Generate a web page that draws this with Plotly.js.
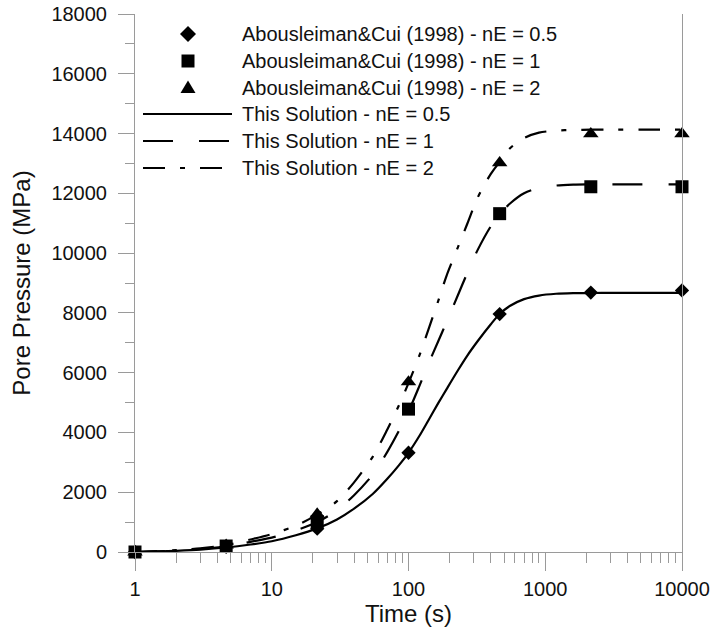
<!DOCTYPE html>
<html>
<head>
<meta charset="utf-8">
<script src="https://cdn.plot.ly/plotly-3.0.1.min.js"></script>
<style>
html,body{margin:0;padding:0;background:#fff;}
#chart{width:713px;height:634px;}
</style>
</head>
<body>
<div id="chart"></div>
<script>
// ---- Data ----
var tMarkers = [1, 4.64, 21.5, 100, 464, 2154, 10000];
var refNE05 = [0, 170, 780, 3320, 7960, 8680, 8750];
var refNE1  = [0, 200, 1020, 4780, 11320, 12220, 12220];
var refNE2  = [0, 230, 1270, 5690, 13020, 13990, 13990];

var tCurve = [1, 1.5, 2, 3, 4.64, 7, 10, 15, 21.5, 30, 40, 55, 70, 85, 100, 120, 140, 165, 190, 230, 270, 320, 400, 464, 550, 700, 900, 1200, 1600, 2154, 3000, 5000, 10000];
var solNE05 = [0, 20, 40, 80, 150, 250, 360, 560, 790, 1090, 1450, 1950, 2450, 2900, 3320, 3880, 4410, 4980, 5450, 6080, 6580, 7050, 7620, 7960, 8230, 8460, 8580, 8640, 8660, 8665, 8670, 8670, 8670];
var solNE1  = [0, 25, 50, 100, 190, 340, 480, 720, 1000, 1400, 1900, 2600, 3350, 4050, 4700, 5550, 6300, 7050, 7700, 8600, 9350, 10100, 10900, 11300, 11650, 12000, 12180, 12260, 12290, 12300, 12300, 12300, 12300];
var solNE2  = [0, 30, 60, 120, 230, 420, 600, 880, 1250, 1700, 2330, 3200, 4100, 4900, 5650, 6570, 7450, 8400, 9250, 10200, 11000, 11850, 12650, 13050, 13500, 13850, 14030, 14100, 14120, 14130, 14130, 14130, 14130];

var xTickVals = [1, 10, 100, 1000, 10000];
var xTickText = ["1", "10", "100", "1000", "10000"];
var xMinorVals = [2,3,4,5,6,7,8,9,20,30,40,50,60,70,80,90,200,300,400,500,600,700,800,900,2000,3000,4000,5000,6000,7000,8000,9000];

var legendLabels = [
  "Abousleiman&Cui (1998) - nE = 0.5",
  "Abousleiman&Cui (1998) - nE = 1",
  "Abousleiman&Cui (1998) - nE = 2",
  "This Solution - nE = 0.5",
  "This Solution - nE = 1",
  "This Solution - nE = 2"
];

// ---- Styles ----
var BLACK = "#000";
var dash1 = "30px,26px";
var dash2 = "22px,15px,5px,15px";
var lw = 2.2;

var traces = [
  {x: tCurve, y: solNE05, mode: "lines", line: {color: BLACK, width: lw, shape: "spline", smoothing: 0.8}, cliponaxis: false, showlegend: false, hoverinfo: "skip"},
  {x: tCurve, y: solNE1, mode: "lines", line: {color: BLACK, width: lw, dash: dash1, shape: "spline", smoothing: 0.8}, cliponaxis: false, showlegend: false, hoverinfo: "skip"},
  {x: tCurve, y: solNE2, mode: "lines", line: {color: BLACK, width: lw, dash: dash2, shape: "spline", smoothing: 0.8}, cliponaxis: false, showlegend: false, hoverinfo: "skip"},
  {x: tMarkers, y: refNE05, mode: "markers", marker: {symbol: "diamond", size: 11, color: BLACK}, cliponaxis: false, showlegend: false},
  {x: tMarkers, y: refNE1, mode: "markers", marker: {symbol: "square", size: 13, color: BLACK}, cliponaxis: false, showlegend: false},
  {x: tMarkers, y: refNE2, mode: "markers", marker: {symbol: "triangle-up", size: 13.5, color: BLACK}, cliponaxis: false, showlegend: false}
];

// ---- Custom legend (paper coordinates) ----
var L = 135, T = 14, PW = 547, PH = 538;
function px(x){ return (x - L) / PW; }
function py(y){ return (T + PH - y) / PH; }
var rowY = [34, 61, 88, 114, 141, 168];
var markerPaths = [
  "M0,8 L8,0 L0,-8 L-8,0 Z",
  "M-6.5,-6.5 L6.5,-6.5 L6.5,6.5 L-6.5,6.5 Z",
  "M-7.5,-5 L7.5,-5 L0,7.5 Z"
];
var lineDashes = ["solid", dash1, dash2];
var shapes = [];
var annotations = [];
for (var i = 0; i < 6; i++) {
  if (i < 3) {
    shapes.push({type: "path", xref: "paper", yref: "paper", xsizemode: "pixel", ysizemode: "pixel",
      xanchor: px(188), yanchor: py(rowY[i]), path: markerPaths[i], fillcolor: BLACK, line: {width: 0}});
  } else {
    shapes.push({type: "line", xref: "paper", yref: "paper", x0: px(143), x1: px(232), y0: py(rowY[i]), y1: py(rowY[i]),
      line: {color: BLACK, width: lw, dash: lineDashes[i - 3]}});
  }
  annotations.push({xref: "paper", yref: "paper", x: px(240), y: py(rowY[i]), xanchor: "left", yanchor: "middle",
    text: legendLabels[i], showarrow: false, font: {family: "Liberation Sans, Arial, sans-serif", size: 20, color: "#111"}});
}

var axisColor = "#9a9a9a";
var layout = {
  width: 713, height: 634,
  margin: {l: L, r: 713 - L - PW, t: T, b: 634 - T - PH},
  paper_bgcolor: "#fff", plot_bgcolor: "#fff",
  showlegend: false,
  font: {family: "Liberation Sans, Arial, sans-serif", color: "#111"},
  xaxis: {
    type: "log", range: [0, 4],
    tickmode: "array", tickvals: xTickVals, ticktext: xTickText,
    ticks: "outside", ticklen: 18, tickcolor: axisColor, tickwidth: 1,
    minor: {tickmode: "array", tickvals: xMinorVals, ticks: "outside", ticklen: 10, tickcolor: axisColor, tickwidth: 1, showgrid: false},
    showline: true, linecolor: axisColor, linewidth: 1,
    showgrid: false, zeroline: false,
    tickfont: {size: 20, color: "#111"},
    ticklabelstandoff: 1,
    title: {text: "Time (s)", font: {size: 24, color: "#111"}, standoff: 1}
  },
  yaxis: {
    range: [0, 18000], dtick: 2000, tick0: 0, tickformat: "d",
    ticks: "outside", ticklen: 16, tickcolor: axisColor, tickwidth: 1,
    minor: {dtick: 1000, ticks: "outside", ticklen: 9, tickcolor: axisColor, tickwidth: 1, showgrid: false},
    showline: true, mirror: true, linecolor: axisColor, linewidth: 1,
    showgrid: false, zeroline: false,
    tickfont: {size: 20, color: "#111"},
    ticklabelstandoff: 7,
    title: {text: "Pore Pressure (MPa)", font: {size: 24, color: "#111"}, standoff: 13}
  },
  shapes: shapes,
  annotations: annotations
};

Plotly.newPlot("chart", traces, layout, {displayModeBar: false, staticPlot: true});
</script>
</body>
</html>
